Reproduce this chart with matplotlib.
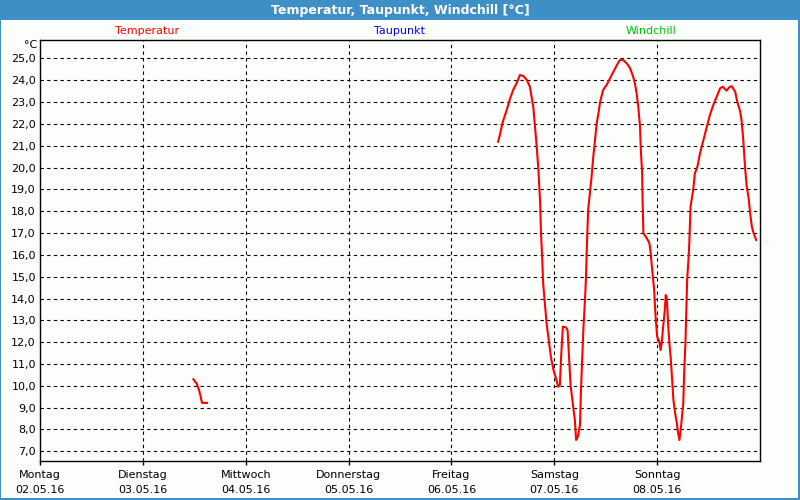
import matplotlib
matplotlib.use("Agg")
import matplotlib.pyplot as plt
from matplotlib.patches import Rectangle

# ---- data (time in hours since Monday 02.05.16 00:00, temperature in °C) ----
seg1_hours = [35.8, 36.6, 37.1, 37.45, 37.8, 39.0]
seg1_temp = [10.30, 10.09, 9.81, 9.54, 9.22, 9.22]

seg2_hours = [106.9, 107.3, 108.0, 108.9, 109.7, 110.4, 111.2, 112.0, 112.8, 113.6,
              114.3, 114.7, 115.1, 115.5, 115.9, 116.3, 116.7, 116.9, 117.2, 117.4,
              117.8, 118.2, 118.8, 119.2, 119.8, 120.4, 120.9, 121.3, 121.6, 122.0,
              122.7, 123.1, 123.4, 123.8, 124.4, 124.8, 125.1, 125.5, 126.0, 126.2,
              126.5, 126.8, 127.2, 127.4, 127.6, 127.9, 128.3, 128.7, 129.1, 129.5,
              129.9, 130.3, 130.7, 131.1, 131.4, 132.2, 133.0, 133.8, 134.6, 135.3,
              136.1, 136.9, 137.7, 138.4, 138.8, 139.2, 139.6, 140.0, 140.2, 140.5,
              140.6, 140.8, 141.6, 142.2, 142.5, 142.7, 143.0, 143.3, 143.5, 143.7,
              144.0, 144.5, 144.8, 145.1, 145.4, 145.8, 146.0, 146.2, 146.4, 146.6,
              146.8, 147.2, 147.5, 147.8, 148.2, 148.6, 148.9, 149.2, 149.5, 149.8,
              150.1, 150.3, 150.6, 150.8, 151.0, 151.3, 151.5, 151.8, 152.4, 152.8,
              153.4, 154.0, 154.8, 155.6, 156.3, 157.1, 157.9, 158.7, 159.3, 160.2,
              160.8, 161.4, 162.2, 162.7, 163.3, 163.7, 164.1, 164.5, 164.9, 165.3,
              165.8, 166.1, 166.4, 167.1]
seg2_temp = [21.18, 21.49, 22.10, 22.63, 23.17, 23.55, 23.86, 24.24, 24.19, 24.01,
             23.70, 23.24, 22.78, 21.87, 20.95, 19.89, 18.36, 16.99, 15.76, 14.70,
             13.78, 12.87, 11.95, 11.34, 10.73, 10.35, 9.96, 10.04, 11.34, 12.71,
             12.68, 12.56, 11.49, 10.04, 9.05, 8.44, 7.52, 7.67, 8.21, 9.66,
             11.19, 12.64, 14.08, 15.00, 16.37, 18.05, 18.82, 19.58, 20.49, 21.26,
             22.02, 22.48, 23.01, 23.32, 23.55, 23.78, 24.08, 24.39, 24.69, 24.92,
             24.92, 24.77, 24.54, 24.16, 23.86, 23.40, 22.78, 21.87, 20.80, 19.73,
             18.51, 16.99, 16.76, 16.53, 16.07, 15.61, 15.00, 14.39, 13.63, 13.02,
             12.25, 12.02, 11.64, 12.02, 12.71, 13.48, 14.16, 14.08, 13.48, 12.71,
             12.10, 11.19, 10.27, 9.35, 8.74, 8.29, 7.83, 7.52, 7.98, 8.59,
             9.20, 10.58, 11.95, 13.48, 14.85, 15.76, 16.53, 18.21, 18.97, 19.73,
             20.04, 20.65, 21.26, 21.87, 22.40, 22.86, 23.24, 23.63, 23.70, 23.52,
             23.67, 23.73, 23.47, 23.01, 22.63, 22.17, 21.26, 20.04, 19.12, 18.66,
             17.75, 17.29, 17.06, 16.68]

day_names = ["Montag", "Dienstag", "Mittwoch", "Donnerstag", "Freitag", "Samstag", "Sonntag"]
day_dates = ["02.05.16", "03.05.16", "04.05.16", "05.05.16", "06.05.16", "07.05.16", "08.05.16"]
y_ticks = list(range(7, 26))

series_names = ["Temperatur", "Taupunkt", "Windchill"]
series_colors = ["#ff0000", "#0000ff", "#00c000"]

# ---- figure ----
frame_blue = "#3d8fc6"
bg = "#fcfefc"
fig = plt.figure(figsize=(8, 5), dpi=100, facecolor=frame_blue)
# inner white panel (behind everything)
fig.patches.append(Rectangle((1 / 800, 2 / 500), 797 / 800, 478 / 500,
                             transform=fig.transFigure, facecolor=bg,
                             edgecolor="none", zorder=-10))
fig.text(0.5, 1 - 10.5 / 500, "Temperatur, Taupunkt, Windchill [°C]", color="white",
         ha="center", va="center", fontsize=9, fontweight="bold", family="DejaVu Sans")

ax = fig.add_axes([40 / 800, 39.5 / 500, 720 / 800, 420.5 / 500])
ax.set_facecolor(bg)

to_day = lambda hs: [h / 24.0 for h in hs]
ax.plot(to_day(seg1_hours), seg1_temp, color="#ff0000", lw=1.5, zorder=3)
ax.plot(to_day(seg2_hours), seg2_temp, color="#ff0000", lw=1.5, zorder=3)

ax.set_xlim(0, 7)
ax.set_ylim(6.58, 25.84)

ax.set_yticks(y_ticks)
ax.set_yticklabels([f"{v},0" for v in y_ticks], fontsize=8)
ax.set_xticks(range(7))
ax.set_xticklabels([f"{n}\n{d}" for n, d in zip(day_names, day_dates)], fontsize=8,
                   linespacing=1.6)
ax.tick_params(axis="y", length=0, pad=3)
ax.tick_params(axis="x", length=3, width=1, direction="out", pad=4)

for v in y_ticks:
    ax.axhline(v, color="black", lw=0.8, ls=(0, (3, 3)), zorder=1)
for d in range(1, 7):
    ax.axvline(d, color="black", lw=0.8, ls=(0, (3, 3)), zorder=1)

for s in ax.spines.values():
    s.set_color("black")
    s.set_linewidth(1.0)

fig.text(37 / 800, 1 - 45 / 500, "°C", ha="right", va="center", fontsize=8)
for name, col, xp in zip(series_names, series_colors, [147, 400, 651]):
    fig.text(xp / 800, 1 - 31 / 500, name, color=col, ha="center", va="center", fontsize=8)

fig.savefig("out.png", dpi=100, facecolor=frame_blue)
